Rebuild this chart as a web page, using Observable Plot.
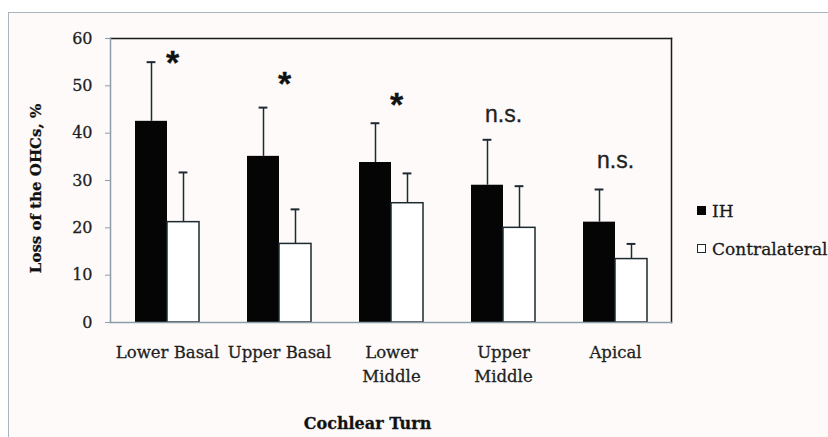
<!DOCTYPE html>
<html><head><meta charset="utf-8">
<script src="https://cdn.jsdelivr.net/npm/d3@7"></script>
<script src="https://cdn.jsdelivr.net/npm/@observablehq/plot@0.6"></script>
<style>
body{margin:0;background:#fff;}
#wrap{position:relative;width:828px;height:437px;overflow:hidden;}
#bg{position:absolute;left:8px;top:12px;width:840px;height:440px;border-left:1.5px solid #a9b5bd;border-top:1.5px solid #a9b5bd;background:#fdfaf9;}
#chart{position:absolute;left:0;top:0;}
#chart text{stroke:#1f1f1f;stroke-width:0.3px;}
.leg{position:absolute;left:697px;height:20px;line-height:20px;font-family:"DejaVu Serif";font-size:17px;color:#1a1a1a;white-space:nowrap;-webkit-text-stroke:0.3px #1a1a1a;}
.sw{display:inline-block;width:9px;height:9px;box-sizing:border-box;margin-right:6px;vertical-align:middle;position:relative;top:-2px;}
</style></head>
<body>
<div id="wrap"><div id="bg"></div><div id="chart"></div>
<div class="leg" style="top:201px"><span class="sw" style="background:#050505;border:1px solid #050505"></span>IH</div>
<div class="leg" style="top:239px"><span class="sw" style="background:#fff;border:1.5px solid #1e2a30"></span>Contralateral</div>
</div>
<script>
const categories = ["Lower Basal", "Upper Basal", "Lower Middle", "Upper Middle", "Apical"];
const tickLabels = ["Lower Basal", "Upper Basal", "Lower\nMiddle", "Upper\nMiddle", "Apical"];
const ihMean = [42.5, 35.1, 33.8, 29.0, 21.2];
const ihSD = [12.5, 10.3, 8.3, 9.6, 6.9];
const contraMean = [21.2, 16.6, 25.2, 20.0, 13.4];
const contraSD = [10.5, 7.3, 6.3, 8.8, 3.2];
const sigLabels = ["*", "*", "*", "n.s.", "n.s."];
const sigY = [56.4, 52.0, 47.6, 44.0, 34.2];
const yTicks = [0, 10, 20, 30, 40, 50, 60];

const ihRows = categories.map((c, i) => ({cat: c, mean: ihMean[i], hi: ihMean[i] + ihSD[i]}));
const conRows = categories.map((c, i) => ({cat: c, mean: contraMean[i], hi: contraMean[i] + contraSD[i]}));
const sigRows = categories.map((c, i) => ({cat: c, label: sigLabels[i], y: sigY[i]}));
const stars = sigRows.filter(d => d.label === "*");
const ns = sigRows.filter(d => d.label !== "*");

const dark = "#1e2a30", gray = "#8d9ea8";

const chart = Plot.plot({
  width: 828, height: 437,
  marginLeft: 110, marginRight: 157, marginTop: 38, marginBottom: 115,
  style: {background: "transparent", fontFamily: "DejaVu Serif", fontSize: "16px", color: "#1f1f1f", overflow: "visible"},
  x: {domain: categories, padding: 0, label: null},
  y: {domain: [0, 60], label: null},
  marks: [
    Plot.frame({anchor: "top", stroke: "#1b1b1b", strokeWidth: 1.5}),
    Plot.frame({anchor: "right", stroke: "#1b1b1b", strokeWidth: 1.5}),
    Plot.barY(ihRows, {x: "cat", y: "mean", fill: "#050505", insetLeft: 24, insetRight: 56}),
    Plot.barY(conRows, {x: "cat", y: "mean", fill: "white", stroke: dark, strokeWidth: 1.5, insetLeft: 56, insetRight: 24}),
    Plot.ruleX(ihRows, {x: "cat", y1: "mean", y2: "hi", dx: -16, stroke: dark, strokeWidth: 1.5}),
    Plot.tickY(ihRows, {x: "cat", y: "hi", insetLeft: 35.6, insetRight: 67.6, stroke: dark, strokeWidth: 2}),
    Plot.ruleX(conRows, {x: "cat", y1: "mean", y2: "hi", dx: 16, stroke: dark, strokeWidth: 1.5}),
    Plot.tickY(conRows, {x: "cat", y: "hi", insetLeft: 67.6, insetRight: 35.6, stroke: dark, strokeWidth: 2}),
    Plot.axisY({ticks: yTicks, tickSize: 5, tickPadding: 13, stroke: gray, fill: "#1f1f1f", label: null, fontSize: 16}),
    Plot.axisX({tickSize: 0, tickPadding: 19, tickFormat: d => tickLabels[categories.indexOf(d)], lineHeight: 1.45, lineAnchor: "top", label: null, fill: "#1f1f1f", fontSize: 16.5}),
    Plot.frame({anchor: "left", stroke: gray, strokeWidth: 1.5}),
    Plot.frame({anchor: "bottom", stroke: gray, strokeWidth: 1.5}),
    Plot.text(stars, {x: "cat", y: "y", text: "label", dx: 5, dy: 8, fontFamily: "Liberation Sans", fontWeight: "bold", fontSize: 34, fill: "#111"}),
    Plot.text(ns, {x: "cat", y: "y", text: "label", fontFamily: "Liberation Sans", fontSize: 23, fill: "#222"}),
    Plot.text(["Loss of the OHCs, %"], {text: d => d, frameAnchor: "left", rotate: -90, dx: -74.5, dy: 8, fontWeight: "bold", fontSize: 15, fill: "#111", textAnchor: "middle", lineAnchor: "middle"}),
    Plot.text(["Cochlear Turn"], {text: d => d, frameAnchor: "bottom", dx: -23.5, dy: 101, fontWeight: "bold", fontSize: 16, fill: "#111", textAnchor: "middle", lineAnchor: "middle"})
  ]
});
document.getElementById("chart").appendChild(chart);
</script>
</body></html>
